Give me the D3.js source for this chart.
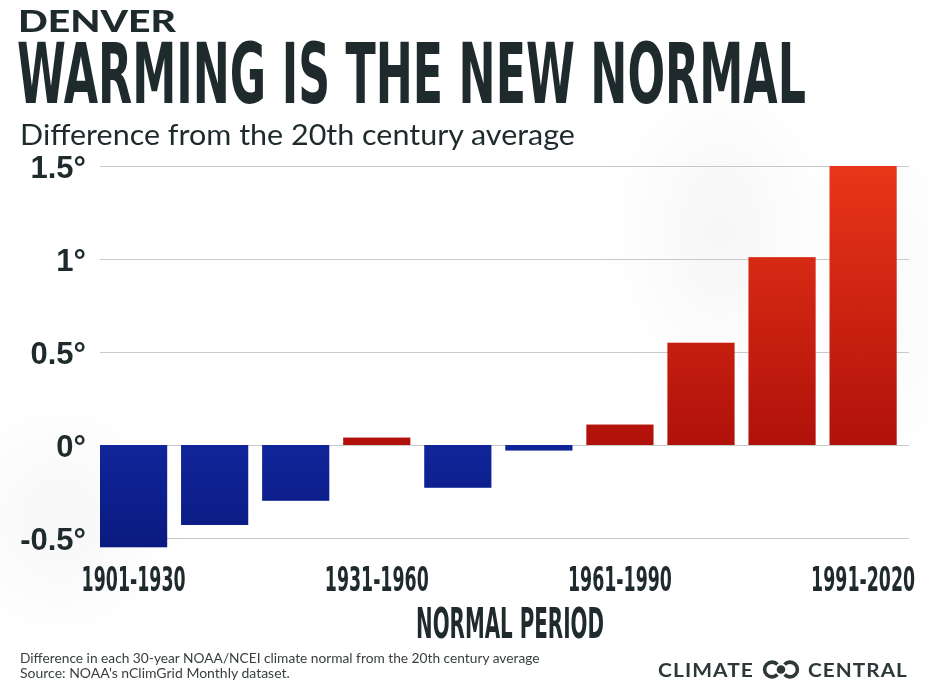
<!DOCTYPE html>
<html>
<head>
<meta charset="utf-8">
<script src="https://cdn.jsdelivr.net/npm/d3@7"></script>
<style>
  html, body { margin: 0; padding: 0; background: #fff; }
  svg { display: block; }
</style>
</head>
<body>
<svg id="chart" width="928" height="682"></svg>
<script>
// 30-year normal periods and their departure from the 20th century average (°F)
const periods = ["1901-1930", "1911-1940", "1921-1950", "1931-1960", "1941-1970",
                 "1951-1980", "1961-1990", "1971-2000", "1981-2010", "1991-2020"];
const anomalies = [-0.55, -0.43, -0.30, 0.04, -0.23, -0.03, 0.11, 0.55, 1.01, 1.50];
const yTicks = [-0.5, 0, 0.5, 1, 1.5];
const xTickLabels = ["1901-1930", "1931-1960", "1961-1990", "1991-2020"];

const ink = "#1e2a2b";
const sans = "Lato, 'Open Sans', sans-serif";
const condensed = "'Liberation Sans Narrow', 'DejaVu Sans Condensed', 'Liberation Sans', sans-serif";
const svg = d3.select("#chart");
const defs = svg.append("defs");

// squeeze a text horizontally so it spans the given width
function fit(sel, width, x0, y0) {
  const w = sel.node().getComputedTextLength();
  sel.attr("transform", `translate(${x0},${y0}) scale(${width / w},1)`);
  return sel;
}

// soft grey haze in the background
const haze = defs.append("filter").attr("id", "haze")
  .attr("x", "-50%").attr("y", "-50%").attr("width", "200%").attr("height", "200%");
haze.append("feGaussianBlur").attr("stdDeviation", 45);
const hazeG = svg.append("g").attr("filter", "url(#haze)").attr("fill", "#000");
hazeG.append("ellipse").attr("cx", 720).attr("cy", 230).attr("rx", 50).attr("ry", 110)
  .attr("opacity", 0.045);
hazeG.append("ellipse").attr("cx", 60).attr("cy", 520).attr("rx", 60).attr("ry", 70)
  .attr("opacity", 0.045);
hazeG.append("ellipse").attr("cx", 905).attr("cy", 300).attr("rx", 25).attr("ry", 140)
  .attr("opacity", 0.035);

// scales
const x = d3.scaleBand().domain(periods).range([100, 896.7])
  .paddingInner(0.171).paddingOuter(0);
const y = d3.scaleLinear().domain([-0.5, 1.5]).range([538, 166]);

// gradients for warm / cool bars
const red = defs.append("linearGradient").attr("id", "gRed")
  .attr("gradientUnits", "userSpaceOnUse")
  .attr("x1", 0).attr("x2", 0).attr("y1", y(1.5)).attr("y2", y(0));
red.append("stop").attr("offset", 0).attr("stop-color", "#e93619");
red.append("stop").attr("offset", 1).attr("stop-color", "#b0110a");
const blue = defs.append("linearGradient").attr("id", "gBlue")
  .attr("gradientUnits", "userSpaceOnUse")
  .attr("x1", 0).attr("x2", 0).attr("y1", y(0)).attr("y2", y(-0.55));
blue.append("stop").attr("offset", 0).attr("stop-color", "#11259a");
blue.append("stop").attr("offset", 1).attr("stop-color", "#0a1a80");

// gridlines + y labels
const yAxis = d3.axisLeft(y).tickValues(yTicks).tickSize(809).tickPadding(14)
  .tickFormat(d => String(d) + "°");
const gy = svg.append("g").attr("transform", "translate(909,0)").call(yAxis);
gy.select(".domain").remove();
gy.selectAll(".tick line").attr("stroke", "#c9c9c9").attr("stroke-width", 1.2);
gy.selectAll(".tick text")
  .attr("fill", ink)
  .attr("font-family", "'Liberation Sans', Arial, sans-serif")
  .attr("font-weight", "bold")
  .attr("font-size", 31)
  .attr("dy", "0.36em");

// bars
svg.append("g").selectAll("rect")
  .data(periods.map((p, i) => ({ p, v: anomalies[i] })))
  .join("rect")
  .attr("x", d => x(d.p))
  .attr("width", x.bandwidth())
  .attr("y", d => y(Math.max(0, d.v)))
  .attr("height", d => Math.abs(y(d.v) - y(0)))
  .attr("fill", d => d.v >= 0 ? "url(#gRed)" : "url(#gBlue)");

// x labels
const xAxis = d3.axisBottom(x).tickValues(xTickLabels).tickSize(0).tickPadding(0);
const gx = svg.append("g").attr("transform", "translate(0,591)").call(xAxis);
gx.select(".domain").remove();
gx.selectAll(".tick text")
  .attr("fill", ink)
  .attr("font-family", condensed)
  .attr("font-weight", "bold")
  .attr("font-size", 33)
  .attr("y", 0)
  .attr("dy", 0)
  .each(function () { fit(d3.select(this), 104, 0, 0); });

fit(svg.append("text").attr("text-anchor", "middle")
  .attr("fill", ink).attr("font-family", condensed).attr("font-weight", "bold")
  .attr("font-size", 43).text("NORMAL PERIOD"), 188, 510, 638);

// headings
fit(svg.append("text")
  .attr("fill", ink).attr("font-family", sans).attr("font-weight", 900)
  .attr("font-size", 31).text("DENVER"), 158, 18, 32);
fit(svg.append("text")
  .attr("fill", ink).attr("font-family", condensed).attr("font-weight", "bold")
  .attr("font-size", 83).text("WARMING IS THE NEW NORMAL"), 789, 17, 103);
fit(svg.append("text")
  .attr("fill", ink).attr("font-family", sans)
  .attr("font-size", 29).text("Difference from the 20th century average"), 555, 20, 145);

// footer notes
const notes = ["Difference in each 30-year NOAA/NCEI climate normal from the 20th century average",
               "Source: NOAA's nClimGrid Monthly dataset."];
const noteWidths = [520, 270];
svg.append("g").selectAll("text").data(notes).join("text")
  .attr("fill", "#3a4040").attr("font-family", sans)
  .attr("font-size", 13.5)
  .text(d => d)
  .each(function (d, i) { fit(d3.select(this), noteWidths[i], 20, 663 + i * 15); });

// logo
const logo = svg.append("g").attr("fill", "#2e3838");
fit(logo.append("text")
  .attr("font-family", sans).attr("font-weight", "bold")
  .attr("font-size", 19.5).attr("letter-spacing", 1).text("CLIMATE"), 96, 658, 677);
fit(logo.append("text")
  .attr("font-family", sans).attr("font-weight", "bold")
  .attr("font-size", 19.5).attr("letter-spacing", 1).text("CENTRAL"), 100, 808, 677);
const ring = d3.arc().innerRadius(5.6).outerRadius(9.2);
const gap = 0.75;
logo.append("path").attr("transform", "translate(772,669.5)")
  .attr("d", ring({ startAngle: Math.PI / 2 + gap, endAngle: 2.5 * Math.PI - gap }));
logo.append("path").attr("transform", "translate(790,669.5)")
  .attr("d", ring({ startAngle: -Math.PI / 2 + gap, endAngle: 1.5 * Math.PI - gap }));
logo.append("circle").attr("cx", 781).attr("cy", 669.5).attr("r", 4.3);
</script>
</body>
</html>
